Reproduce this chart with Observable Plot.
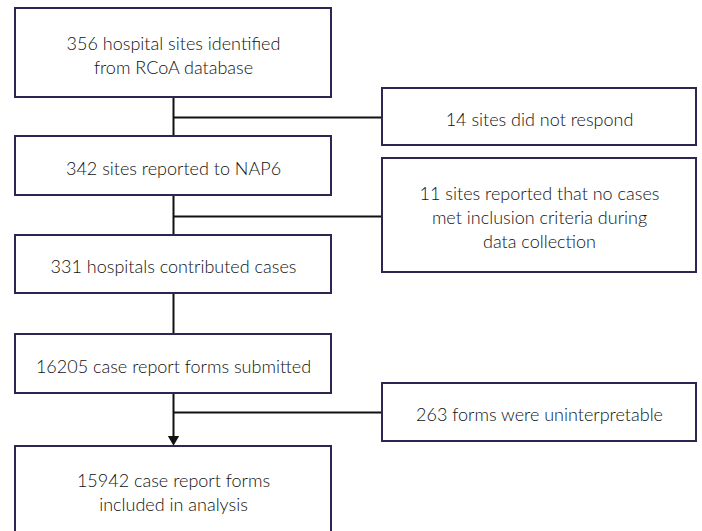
<!DOCTYPE html>
<html><head><meta charset="utf-8">
<script src="https://cdn.jsdelivr.net/npm/d3@7"></script>
<script src="https://cdn.jsdelivr.net/npm/@observablehq/plot@0.6"></script>
<style>body{margin:0;background:#fff}</style>
</head><body><div id="chart"></div>
<script>
// Data: flow steps and exclusions
const mainSteps = [
  "356 hospital sites identified\nfrom RCoA database",
  "342 sites reported to NAP6",
  "331 hospitals contributed cases",
  "16205 case report forms submitted",
  "15942 case report forms\nincluded in analysis"
];
const exclusions = [
  "14 sites did not respond",
  "11 sites reported that no cases\nmet inclusion criteria during\ndata collection",
  "263 forms were uninterpretable"
];

// Layout (kept separate from the data)
const mainX = [15, 331];
const mainY = [[8, 97], [136, 195], [235, 293], [334, 393], [446, 533]];
const sideX = [382, 696];
const sideY = [[88, 145], [158, 272], [383, 441]];
const spineX = 173;
const branchY = [117, 216, 412];
const arrowTipY = 443;

const boxes = [
  ...mainSteps.map((t, i) => ({text: t, x1: mainX[0], x2: mainX[1], y1: mainY[i][0], y2: mainY[i][1]})),
  ...exclusions.map((t, i) => ({text: t, x1: sideX[0], x2: sideX[1], y1: sideY[i][0], y2: sideY[i][1]}))
];
const labels = boxes.map(b => ({text: b.text, x: (b.x1 + b.x2) / 2, y: (b.y1 + b.y2) / 2 + 1}));
const branches = branchY.map(y => ({x1: spineX, x2: sideX[0], y}));

const chart = Plot.plot({
  width: 702,
  height: 531,
  margin: 0,
  x: {domain: [0, 702], range: [0, 702], axis: null},
  y: {domain: [0, 531], range: [0, 531], axis: null},
  style: {fontFamily: "Lato, 'Open Sans', sans-serif", background: "#fff"},
  marks: [
    Plot.ruleX([spineX], {y1: mainY[0][1], y2: arrowTipY - 4, stroke: "#111", strokeWidth: 2}),
    Plot.ruleY(branches, {y: "y", x1: "x1", x2: "x2", stroke: "#111", strokeWidth: 2}),
    Plot.dot([{x: spineX, y: arrowTipY - 4.3}], {x: "x", y: "y", symbol: "triangle", rotate: 180, r: 4.2, fill: "#111", stroke: null}),
    Plot.rect(boxes, {x1: "x1", x2: "x2", y1: "y1", y2: "y2", fill: "#fff", stroke: "#2e2552", strokeWidth: 2}),
    Plot.text(labels, {x: "x", y: "y", text: "text", fontSize: 18, fontWeight: 300, lineHeight: 1.33, fill: "#111"})
  ]
});
document.getElementById("chart").appendChild(chart);
</script>
</body></html>
